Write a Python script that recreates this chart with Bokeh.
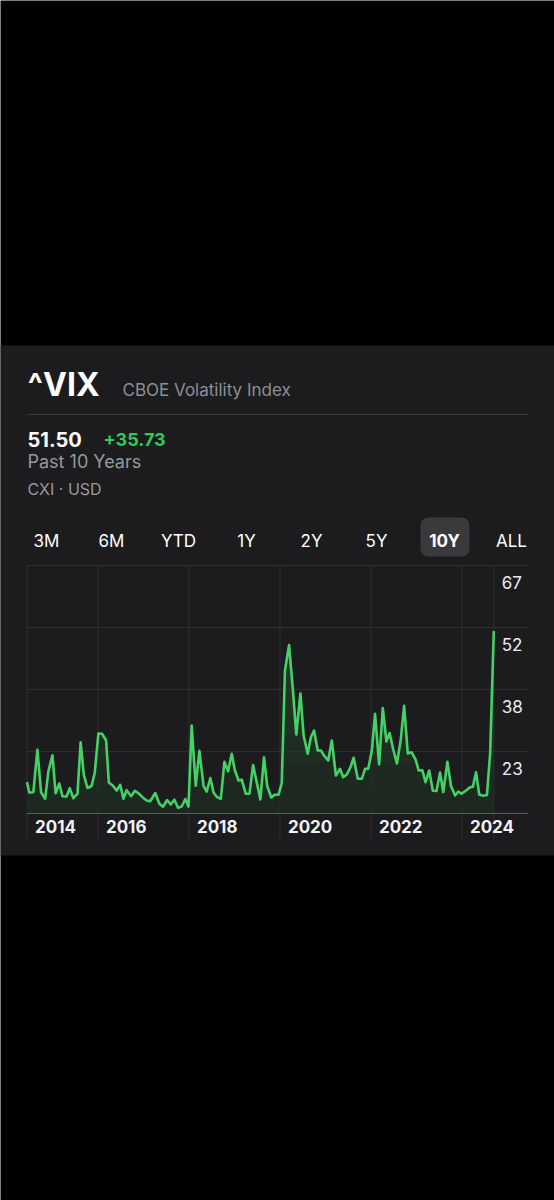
import numpy as np
from bokeh.plotting import figure
from bokeh.models import Range1d
from bokeh.core.properties import value
from bokeh.embed import file_html
from bokeh.resources import INLINE

# ---------------- data ----------------
dates = [2014.44, 2014.49, 2014.58, 2014.67, 2014.75, 2014.84, 2014.91, 2015.00, 2015.07, 2015.15,
         2015.22, 2015.31, 2015.38, 2015.46, 2015.55, 2015.62, 2015.69, 2015.77, 2015.86, 2015.93,
         2016.01, 2016.09, 2016.18, 2016.24, 2016.33, 2016.41, 2016.49, 2016.56, 2016.63, 2016.73,
         2016.81, 2016.89, 2016.98, 2017.07, 2017.15, 2017.26, 2017.35, 2017.43, 2017.52, 2017.60,
         2017.68, 2017.76, 2017.84, 2017.92, 2017.99, 2018.06, 2018.15, 2018.23, 2018.32, 2018.39,
         2018.47, 2018.54, 2018.62, 2018.70, 2018.78, 2018.86, 2018.94, 2019.01, 2019.09, 2019.16,
         2019.25, 2019.33, 2019.41, 2019.49, 2019.57, 2019.65, 2019.72, 2019.81, 2019.88, 2019.97,
         2020.04, 2020.11, 2020.20, 2020.28, 2020.36, 2020.45, 2020.52, 2020.61, 2020.68, 2020.75,
         2020.83, 2020.90, 2020.97, 2021.06, 2021.14, 2021.23, 2021.32, 2021.39, 2021.47, 2021.55,
         2021.62, 2021.71, 2021.80, 2021.87, 2021.94, 2022.02, 2022.09, 2022.18, 2022.26, 2022.34,
         2022.41, 2022.49, 2022.57, 2022.65, 2022.73, 2022.81, 2022.89, 2022.98, 2023.05, 2023.13,
         2023.20, 2023.28, 2023.36, 2023.44, 2023.52, 2023.59, 2023.68, 2023.76, 2023.85, 2023.92,
         2023.99, 2024.09, 2024.17, 2024.24, 2024.31, 2024.38, 2024.47, 2024.55, 2024.62, 2024.70]

vix = [15.77, 13.30, 13.37, 23.40, 13.37, 11.81, 18.27, 22.12, 13.13, 15.43,
       12.42, 12.35, 14.32, 11.95, 12.99, 25.20, 17.44, 14.36, 14.84, 17.91,
       27.26, 27.19, 25.60, 15.66, 14.88, 13.77, 15.12, 11.81, 13.84, 12.42,
       13.70, 13.13, 12.19, 11.41, 11.24, 13.18, 10.62, 9.92, 11.52, 10.46,
       11.59, 9.68, 9.99, 11.76, 9.99, 29.15, 14.88, 23.16, 14.95, 13.53,
       16.73, 13.30, 12.19, 11.81, 20.56, 18.31, 22.45, 18.50, 16.14, 16.33,
       12.99, 12.99, 19.80, 15.73, 11.64, 21.65, 14.84, 12.12, 12.78, 12.78,
       15.50, 42.16, 48.19, 38.21, 27.02, 36.72, 26.78, 22.45, 26.38, 27.97,
       23.23, 23.23, 22.05, 20.87, 25.60, 17.32, 18.90, 16.92, 17.56, 19.28,
       21.51, 16.54, 16.54, 18.90, 18.90, 23.23, 31.92, 19.92, 33.29, 25.36,
       27.37, 23.47, 20.16, 25.36, 33.81, 22.52, 22.83, 21.11, 18.50, 18.57,
       15.73, 18.50, 13.70, 13.65, 18.03, 13.37, 20.56, 14.84, 12.59, 13.53,
       12.99, 13.77, 14.48, 14.67, 18.10, 12.82, 12.52, 12.71, 22.64, 51.50]

year_labels = ["2014", "2016", "2018", "2020", "2022", "2024"]
year_ticks = [dates[0], 2016, 2018, 2020, 2022, 2024]
price_labels = ["23", "38", "52", "67"]
price_ticks = [23.0, 37.67, 52.33, 67.0]
base_value = 8.33

tab_labels = ["3M", "6M", "YTD", "1Y", "2Y", "5Y", "10Y", "ALL"]
selected_tab = "10Y"
symbol = "^VIX"
full_name = "CBOE Volatility Index"
last_price = "51.50"
change = "+35.73"
period = "Past 10 Years"
exchange = "CXI · USD"

# ---------------- style / layout ----------------
FONT = "Inter"
W, H = 554, 1200
CARD = "#1c1c1e"
GREEN = "#45d166"
GRID = "#2f2f32"
GRAY = "#98989d"

# chart plot box on the page (pixels) and its scale
PX_LEFT, PX_RIGHT, PX_BASE = 26, 528, 813
px_per_year = 45.5
px_per_unit = 4.227
x_first = dates[0] - 0.01
x_start = x_first - PX_LEFT / px_per_year
x_end = x_first + (W - PX_LEFT) / px_per_year
x_plot_end = x_first + (PX_RIGHT - PX_LEFT) / px_per_year
y_start = base_value - (H - PX_BASE) / px_per_unit
y_end = base_value + PX_BASE / px_per_unit
y_grid_low = base_value - 25 / px_per_unit

p = figure(width=W, height=H, x_range=Range1d(x_start, x_end), y_range=Range1d(y_start, y_end),
           x_axis_location=None, y_axis_location=None, min_border=0,
           background_fill_color="black", border_fill_color="black", outline_line_color=None,
           output_backend="svg", toolbar_location=None)
p.grid.visible = False
p.extra_x_ranges = {"px": Range1d(0, W)}
p.extra_y_ranges = {"px": Range1d(H, 0)}
PX = dict(x_range_name="px", y_range_name="px")

# card
p.quad(left=0, right=W, top=345, bottom=855, fill_color=CARD, line_color=None, **PX)
p.segment(x0=27, y0=414, x1=528, y1=414, line_color="#3a3a3c", line_width=1, **PX)

# header texts (vertical centres of the capitals)
p.text(x=[27], y=[384], text=[symbol], text_font=value(FONT), text_font_size="32px",
       text_font_style="bold", text_color="white", text_baseline="middle", **PX)
p.text(x=[122], y=[389], text=[full_name], text_font=value(FONT), text_font_size="17px",
       text_color="#8e8e93", text_baseline="middle", **PX)
p.text(x=[27], y=[439], text=[last_price], text_font=value(FONT), text_font_size="20px",
       text_font_style="bold", text_color="white", text_baseline="middle", **PX)
p.text(x=[103], y=[439], text=[change], text_font=value(FONT), text_font_size="18px",
       text_font_style="bold", text_color="#34c759", text_baseline="middle", **PX)
p.text(x=[27], y=[461], text=[period], text_font=value(FONT), text_font_size="18px",
       text_color=GRAY, text_baseline="middle", **PX)
p.text(x=[27], y=[488.5], text=[exchange], text_font=value(FONT), text_font_size="16px",
       text_color=GRAY, text_baseline="middle", **PX)

# range tabs
tab_x = [46, 111, 178, 246, 311, 376, 444, 511]
sel = tab_labels.index(selected_tab)
p.quad(left=tab_x[sel] - 24, right=tab_x[sel] + 25, top=517, bottom=556,
       fill_color="#3a3a3c", line_color=None, border_radius=8, **PX)
for lbl, tx in zip(tab_labels, tab_x):
    p.text(x=[tx], y=[540], text=[lbl], text_font=value(FONT), text_font_size="17px",
           text_font_style="bold" if lbl == selected_tab else "normal",
           text_color="white", text_align="center", text_baseline="middle", **PX)

# ---------------- chart (data scales) ----------------
vticks = year_ticks + [dates[-1]]
p.segment(x0=vticks, y0=[y_grid_low] * len(vticks), x1=vticks, y1=[price_ticks[-1]] * len(vticks),
          line_color=GRID, line_width=1)
p.segment(x0=[x_first] * len(price_ticks), y0=price_ticks, x1=[x_plot_end] * len(price_ticks),
          y1=price_ticks, line_color=GRID, line_width=1)

vals = np.array(vix)
p.varea(x=dates, y1=base_value, y2=vix, fill_color=GREEN, fill_alpha=0.19)
for lvl in np.linspace(base_value, 45, 7)[1:]:
    p.varea(x=dates, y1=base_value, y2=np.minimum(vals, lvl), fill_color=CARD, fill_alpha=0.14)

p.segment(x0=[x_first], y0=[base_value], x1=[x_plot_end], y1=[base_value],
          line_color="#5c5c60", line_width=1.2)
p.line(dates, vix, line_color=GREEN, line_width=2.6, line_join="round")

p.text(x=year_ticks, y=[base_value] * len(year_ticks), text=year_labels, x_offset=8, y_offset=13,
       text_font=value(FONT), text_font_size="17px", text_font_style="bold",
       text_color="#f2f2f7", text_align="left", text_baseline="middle")
p.text(x=[dates[-1]] * len(price_ticks), y=price_ticks, text=price_labels, x_offset=8, y_offset=17,
       text_font=value(FONT), text_font_size="17px", text_color="#ebebf0",
       text_align="left", text_baseline="middle")

open("out.html", "w").write(file_html(p, INLINE))
